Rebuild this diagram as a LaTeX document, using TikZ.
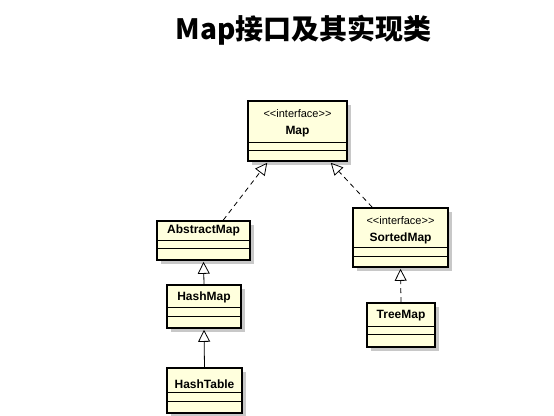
\documentclass[tikz,border=0pt]{standalone}
\usepackage{fontspec}
\setmainfont{Liberation Sans}[Ligatures=TeXOff]
\newfontfamily\cjk{Noto Sans CJK SC}
\usetikzlibrary{arrows.meta,calc,shadows}
\definecolor{boxfill}{RGB}{255,255,221}
\definecolor{shgray}{RGB}{200,200,200}
\begin{document}
\begin{tikzpicture}[x=1pt,y=-1pt,
  cls/.style={draw=black, line width=1.6pt, fill=boxfill, inner sep=0pt,
    drop shadow={shadow xshift=4pt, shadow yshift=-4pt, fill=shgray, opacity=1}},
  stereo/.style={font=\fontsize{11}{12}\selectfont, inner sep=0pt},
  cname/.style={font=\bfseries\fontsize{12}{14}\selectfont, inner sep=0pt},
  sep/.style={line width=0.9pt},
  realize/.style={line width=0.8pt, dash pattern=on 5pt off 4pt,
    -{Triangle[width=12pt,length=12pt,fill=white,line width=0.8pt]}},
  inherit/.style={line width=0.8pt,
    -{Triangle[width=12pt,length=12pt,fill=white,line width=0.8pt]}}]
\useasboundingbox (0,0) rectangle (554,415);
\fill[white] (0,0) rectangle (554,415);

\node[font=\cjk\bfseries\fontsize{28}{30}\selectfont, inner sep=0pt] (title) at (303.5,30.5) {Map接口及其实现类};

% Map
\node[cls, minimum width=99pt, minimum height=60pt] (map) at (297.5,131) {};
\draw[sep] ($(map.north west)+(0,42)$) -- ($(map.north east)+(0,42)$);
\draw[sep] ($(map.north west)+(0,50)$) -- ($(map.north east)+(0,50)$);
\node[stereo] (mapst) at (297.5,113.5) {<<interface>>};
\node[cname] (mapn) at (297.5,132) {Map};

% AbstractMap
\node[cls, minimum width=93pt, minimum height=39pt] (abs) at (203.5,240.5) {};
\draw[sep] ($(abs.north west)+(0,20)$) -- ($(abs.north east)+(0,20)$);
\draw[sep] ($(abs.north west)+(0,28)$) -- ($(abs.north east)+(0,28)$);
\node[cname] (absn) at (203.5,230.5) {AbstractMap};

% SortedMap
\node[cls, minimum width=95pt, minimum height=59pt] (sm) at (400.5,237.5) {};
\draw[sep] ($(sm.north west)+(0,40)$) -- ($(sm.north east)+(0,40)$);
\draw[sep] ($(sm.north west)+(0,49)$) -- ($(sm.north east)+(0,49)$);
\node[stereo] (smst) at (400.5,220.5) {<<interface>>};
\node[cname] (smn) at (400.5,238) {SortedMap};

% HashMap
\node[cls, minimum width=74pt, minimum height=43pt] (hm) at (204,306.5) {};
\draw[sep] ($(hm.north west)+(0,23)$) -- ($(hm.north east)+(0,23)$);
\draw[sep] ($(hm.north west)+(0,32)$) -- ($(hm.north east)+(0,32)$);
\node[cname] (hmn) at (204,297.5) {HashMap};

% TreeMap
\node[cls, minimum width=68pt, minimum height=44pt] (tm) at (401,325) {};
\draw[sep] ($(tm.north west)+(0,24)$) -- ($(tm.north east)+(0,24)$);
\draw[sep] ($(tm.north west)+(0,32)$) -- ($(tm.north east)+(0,32)$);
\node[cname] (tmn) at (401,316) {TreeMap};

% HashTable
\node[cls, minimum width=75pt, minimum height=45pt] (ht) at (204.5,390.5) {};
\draw[sep] ($(ht.north west)+(0,25)$) -- ($(ht.north east)+(0,25)$);
\draw[sep] ($(ht.north west)+(0,34)$) -- ($(ht.north east)+(0,34)$);
\node[cname] (htn) at (204.5,384) {HashTable};

% connectors
\coordinate (a1) at ($(abs.north west)+(67,0)$);
\coordinate (a2) at ($(map.south west)+(20,1)$);
\draw[realize] (a1) -- (a2);
\coordinate (b1) at ($(sm.north west)+(20,0)$);
\coordinate (b2) at ($(map.south east)+(-17,1)$);
\draw[realize] (b1) -- (b2);
\draw[inherit] (hm.north) -- ($(abs.south)+(0,1)$);
\draw[inherit] (ht.north) -- ($(hm.south)+(0,1)$);
\draw[realize] (tm.north) -- ($(sm.south)+(0,1)$);
\end{tikzpicture}
\end{document}
